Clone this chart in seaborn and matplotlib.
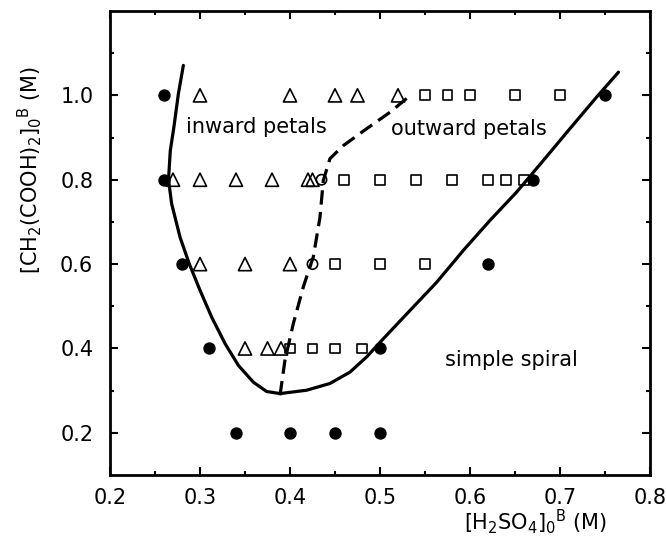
import matplotlib
matplotlib.use("Agg")
import matplotlib.pyplot as plt
import seaborn as sns
from matplotlib.ticker import FixedLocator

# ---- data ----
simple_x = [0.26, 0.75, 0.26, 0.67, 0.28, 0.62, 0.31, 0.50, 0.34, 0.40, 0.45, 0.50]
simple_y = [1.0, 1.0, 0.8, 0.8, 0.6, 0.6, 0.4, 0.4, 0.2, 0.2, 0.2, 0.2]

inward_x = [0.30, 0.40, 0.45, 0.475, 0.52,
            0.27, 0.30, 0.34, 0.38, 0.42, 0.425,
            0.30, 0.35, 0.40,
            0.35, 0.375, 0.39]
inward_y = [1.0] * 5 + [0.8] * 6 + [0.6] * 3 + [0.4] * 3

outward_x = [0.55, 0.575, 0.60, 0.65, 0.70,
             0.46, 0.50, 0.54, 0.58, 0.62, 0.64, 0.66,
             0.45, 0.50, 0.55,
             0.40, 0.425, 0.45, 0.48]
outward_y = [1.0] * 5 + [0.8] * 7 + [0.6] * 3 + [0.4] * 4

trans_x = [0.435, 0.425]
trans_y = [0.8, 0.6]

boundary_x = [0.2815, 0.276, 0.271, 0.267, 0.265, 0.2685, 0.2778, 0.288, 0.300, 0.313,
              0.328, 0.3426, 0.3593, 0.374, 0.3889, 0.4185, 0.4444, 0.4667, 0.4852,
              0.5037, 0.5333, 0.563, 0.5926, 0.6222, 0.6518, 0.6815, 0.711, 0.7407, 0.765]
boundary_y = [1.071, 1.004, 0.925, 0.869, 0.800, 0.743, 0.664, 0.601, 0.538, 0.474,
              0.411, 0.360, 0.320, 0.298, 0.293, 0.301, 0.317, 0.344, 0.380,
              0.423, 0.490, 0.557, 0.6325, 0.7036, 0.7707, 0.8457, 0.921, 0.996, 1.055]

petal_x = [0.3889, 0.3944, 0.4037, 0.4148, 0.4259, 0.4333, 0.437, 0.4444, 0.4593,
           0.4852, 0.5111, 0.5315]
petal_y = [0.289, 0.372, 0.459, 0.546, 0.617, 0.711, 0.798, 0.850, 0.881,
           0.921, 0.960, 0.996]

x_ticks = [0.2, 0.3, 0.4, 0.5, 0.6, 0.7, 0.8]
y_ticks = [0.2, 0.4, 0.6, 0.8, 1.0]

# ---- style ----
sns.set_style("ticks")
plt.rcParams['font.family'] = ['DejaVu Sans']
plt.rcParams['mathtext.fontset'] = 'dejavusans'

fig = plt.figure(figsize=(6.66, 5.45), dpi=100)
ax = fig.add_axes([110 / 666, 1 - 475 / 545, 540 / 666, 464 / 545])

sns.lineplot(x=boundary_x, y=boundary_y, sort=False, estimator=None, ax=ax,
             color='black', linewidth=2.3)
sns.lineplot(x=petal_x, y=petal_y, sort=False, estimator=None, ax=ax,
             color='black', linewidth=2.3, linestyle=(0, (4.5, 2.3)))

sns.scatterplot(x=simple_x, y=simple_y, ax=ax, marker='o', s=80,
                color='black', edgecolor='black', linewidth=0, zorder=5)
sns.scatterplot(x=inward_x, y=inward_y, ax=ax, marker='^', s=90,
                facecolor='none', edgecolor='black', linewidth=1.2, zorder=5)
sns.scatterplot(x=outward_x, y=outward_y, ax=ax, marker='s', s=50,
                facecolor='none', edgecolor='black', linewidth=1.2, zorder=5)
sns.scatterplot(x=trans_x, y=trans_y, ax=ax, marker='o', s=55,
                facecolor='none', edgecolor='black', linewidth=1.2, zorder=5)

ax.set_xlim(0.2, 0.8)
ax.set_ylim(0.1, 1.2)
ax.xaxis.set_major_locator(FixedLocator(x_ticks))
ax.xaxis.set_minor_locator(FixedLocator([0.25, 0.35, 0.45, 0.55, 0.65, 0.75]))
ax.yaxis.set_major_locator(FixedLocator(y_ticks))
ax.yaxis.set_minor_locator(FixedLocator([0.3, 0.5, 0.7, 0.9, 1.1]))
ax.set_xticklabels([f"{v:.1f}" for v in x_ticks])
ax.set_yticklabels([f"{v:.1f}" for v in y_ticks])

ax.tick_params(which='both', direction='in', top=True, right=True,
               color='black', width=1.5, labelsize=15, labelcolor='black')
ax.tick_params(which='major', length=6)
ax.tick_params(which='minor', length=3)
ax.tick_params(axis='x', which='major', pad=9)
ax.tick_params(axis='y', which='major', pad=12)
for sp in ax.spines.values():
    sp.set_visible(True)
    sp.set_color('black')
    sp.set_linewidth(2)

ax.set_xlabel('')
ax.set_ylabel('')

ax.text(0.363, 0.925, 'inward petals', fontsize=15, ha='center', va='center', color='black')
ax.text(0.599, 0.921, 'outward petals', fontsize=15, ha='center', va='center', color='black')
ax.text(0.646, 0.372, 'simple spiral', fontsize=15, ha='center', va='center', color='black')

fig.text(536 / 666, 1 - 522 / 545, r'[H$_2$SO$_4$]$_0$$^{\mathrm{B}}$ (M)',
         fontsize=15, ha='center', va='center', color='black')
fig.text(30 / 666, 1 - 170 / 545, r'[CH$_2$(COOH)$_2$]$_0$$^{\mathrm{B}}$ (M)',
         fontsize=15, ha='center', va='center', rotation=90, color='black')

fig.savefig('out.png', dpi=100)
